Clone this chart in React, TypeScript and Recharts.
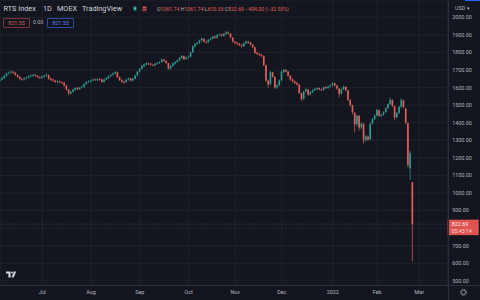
import React from "react"
import { ComposedChart, Bar, XAxis, YAxis, CartesianGrid, ReferenceLine } from "recharts"

// Daily RTS index candles, Jun 2021 .. 24 Feb 2022
const opens = [
  1638, 1646, 1654, 1667, 1681, 1687, 1691, 1684, 1671, 1661, 1649, 1646, 1653, 1657, 1666, 1667, 1673, 1667, 1659,
  1656, 1661, 1669, 1671, 1651, 1646, 1639, 1631, 1636, 1629, 1627, 1611, 1589, 1567, 1576, 1587, 1598, 1591, 1601, 1604, 1621, 1633,
  1634, 1641, 1646, 1642, 1649, 1646, 1633, 1646, 1654, 1666, 1673, 1681, 1687, 1659, 1642, 1633, 1631, 1646, 1652, 1641, 1651, 1669,
  1691, 1706, 1721, 1731, 1737, 1736, 1729, 1727, 1736, 1741, 1746, 1759, 1751, 1739, 1709, 1723, 1737, 1746, 1754, 1769, 1779, 1763,
  1771, 1776, 1801, 1834, 1849, 1854, 1869, 1877, 1861, 1859, 1873, 1879, 1891, 1884, 1899, 1903, 1894, 1906, 1914, 1907, 1884,
  1861, 1856, 1849, 1841, 1836, 1853, 1861, 1857, 1844, 1829, 1799, 1791, 1787, 1779, 1727, 1639, 1619, 1687, 1661, 1601, 1613,
  1641, 1689, 1701, 1691, 1667, 1646, 1634, 1626, 1617, 1569, 1536, 1579, 1589, 1561, 1574, 1586, 1591, 1597, 1589, 1587, 1603, 1597, 1607,
  1613, 1624, 1611, 1594, 1566, 1591, 1604, 1584, 1529, 1499, 1457, 1391, 1439, 1373, 1394, 1301, 1321, 1306, 1396, 1421,
  1441, 1471, 1439, 1446, 1461, 1483, 1506, 1529, 1494, 1431, 1456, 1491, 1527, 1480, 1398, 1140, 1061.74,
]
const highs = [
  1650, 1660, 1672, 1684, 1692, 1697, 1695, 1688, 1676, 1665, 1655, 1658, 1663, 1670, 1674, 1680, 1678, 1671, 1664,
  1668, 1673, 1682, 1675, 1656, 1650, 1644, 1641, 1640, 1636, 1632, 1615, 1592, 1581, 1594, 1602, 1603, 1606, 1611, 1625, 1637, 1642,
  1646, 1651, 1652, 1654, 1656, 1650, 1650, 1660, 1670, 1677, 1686, 1695, 1690, 1663, 1647, 1640, 1650, 1658, 1656, 1656, 1673, 1695,
  1711, 1728, 1736, 1744, 1743, 1740, 1735, 1741, 1746, 1751, 1766, 1764, 1755, 1742, 1728, 1743, 1750, 1760, 1773, 1786, 1783, 1776,
  1782, 1806, 1840, 1854, 1861, 1873, 1884, 1881, 1867, 1877, 1886, 1895, 1896, 1903, 1908, 1907, 1910, 1922, 1919, 1910, 1888,
  1866, 1862, 1855, 1847, 1857, 1867, 1866, 1860, 1848, 1832, 1805, 1797, 1792, 1782, 1730, 1645, 1694, 1690, 1664, 1620, 1646,
  1696, 1706, 1705, 1695, 1671, 1652, 1640, 1632, 1620, 1573, 1583, 1596, 1593, 1581, 1590, 1598, 1602, 1601, 1595, 1607, 1608, 1611, 1618,
  1631, 1629, 1615, 1597, 1596, 1610, 1608, 1587, 1533, 1503, 1460, 1446, 1443, 1402, 1398, 1330, 1328, 1402, 1427, 1447,
  1478, 1475, 1452, 1466, 1488, 1511, 1542, 1533, 1498, 1461, 1496, 1540, 1531, 1485, 1402, 1240, 1061.74,
]
const lows = [
  1632, 1641, 1650, 1662, 1675, 1680, 1678, 1668, 1655, 1644, 1638, 1640, 1648, 1652, 1660, 1662, 1662, 1654, 1648,
  1650, 1656, 1664, 1645, 1638, 1633, 1626, 1625, 1624, 1620, 1606, 1584, 1558, 1560, 1570, 1582, 1586, 1586, 1596, 1600, 1616, 1627,
  1629, 1636, 1637, 1637, 1641, 1628, 1628, 1641, 1650, 1660, 1668, 1676, 1655, 1637, 1627, 1622, 1626, 1640, 1634, 1636, 1646, 1664,
  1686, 1700, 1715, 1725, 1729, 1724, 1721, 1722, 1730, 1735, 1741, 1746, 1734, 1702, 1703, 1718, 1731, 1741, 1749, 1763, 1756, 1757,
  1765, 1771, 1796, 1828, 1843, 1849, 1863, 1856, 1851, 1854, 1867, 1874, 1879, 1879, 1893, 1889, 1889, 1900, 1902, 1880, 1856,
  1848, 1843, 1836, 1828, 1831, 1847, 1850, 1839, 1824, 1792, 1786, 1779, 1773, 1722, 1632, 1600, 1614, 1656, 1592, 1594, 1608,
  1636, 1683, 1686, 1662, 1639, 1629, 1619, 1611, 1563, 1524, 1530, 1573, 1553, 1555, 1568, 1580, 1585, 1584, 1581, 1582, 1592, 1592, 1601,
  1608, 1606, 1588, 1545, 1560, 1585, 1578, 1523, 1490, 1448, 1345, 1384, 1355, 1362, 1282, 1290, 1296, 1300, 1390, 1415,
  1435, 1433, 1432, 1440, 1455, 1477, 1500, 1488, 1415, 1425, 1450, 1485, 1483, 1392, 1145, 1075, 610.33,
]
const closes = [
  1645, 1655, 1668, 1680, 1686, 1690, 1685, 1672, 1660, 1650, 1645, 1652, 1658, 1665, 1668, 1672, 1668, 1660, 1655,
  1662, 1668, 1672, 1650, 1645, 1640, 1632, 1635, 1630, 1628, 1612, 1590, 1568, 1575, 1588, 1597, 1592, 1600, 1605, 1620, 1632, 1635,
  1640, 1645, 1643, 1648, 1647, 1634, 1645, 1655, 1665, 1672, 1680, 1688, 1660, 1643, 1634, 1630, 1645, 1653, 1640, 1650, 1668, 1690,
  1705, 1722, 1730, 1738, 1735, 1730, 1728, 1735, 1740, 1745, 1760, 1752, 1740, 1708, 1722, 1738, 1745, 1755, 1768, 1780, 1762, 1770,
  1775, 1800, 1835, 1848, 1855, 1868, 1878, 1862, 1858, 1872, 1880, 1890, 1885, 1898, 1902, 1895, 1905, 1915, 1908, 1885, 1862,
  1855, 1850, 1842, 1835, 1852, 1862, 1856, 1845, 1830, 1798, 1792, 1786, 1780, 1728, 1640, 1618, 1688, 1662, 1600, 1612, 1640,
  1690, 1700, 1692, 1668, 1645, 1635, 1625, 1618, 1570, 1535, 1578, 1590, 1560, 1575, 1585, 1592, 1596, 1590, 1588, 1602, 1598, 1606, 1612,
  1625, 1612, 1595, 1565, 1590, 1605, 1585, 1530, 1500, 1458, 1390, 1440, 1372, 1395, 1300, 1322, 1305, 1395, 1420, 1440,
  1472, 1440, 1445, 1460, 1482, 1505, 1530, 1495, 1430, 1455, 1490, 1528, 1490, 1400, 1160, 1226.69, 822.69,
]

// bar index of the first trading day of each month
const monthTicks = [19, 41, 63, 85, 106, 127, 150, 170, 189]
const monthLabels = ["Jul", "Aug", "Sep", "Oct", "Nov", "Dec", "2022", "Feb", "Mar"]
const priceTicks = [500, 600, 700, 800, 900, 1000, 1100, 1200, 1300, 1400, 1500, 1600, 1700, 1800, 1900, 2000]

const lastPrice = 822.69
const countdown = "05:45:14"

const BG = "#14161f"
const GRID = "#22252f"
const UP = "#2a9f93"
const DOWN = "#e5605a"
const TEXT = "#b2b5be"
const FONT = "Roboto, sans-serif"

const data = closes.map((c, i) => ({ i, open: opens[i], high: highs[i], low: lows[i], close: c }))

const Candle = (props: any) => {
  const { x, y, width, height, payload } = props
  if (!payload || x == null) return null
  const { open, close, high, low } = payload
  const top = Math.min(y, y + height)
  const h = Math.abs(height)
  const color = close >= open ? UP : DOWN
  const ratio = high === low ? 0 : h / (high - low)
  const bodyTop = top + (high - Math.max(open, close)) * ratio
  const bodyH = Math.max(Math.abs(open - close) * ratio, 0.7)
  const cx = x + width / 2
  return (
    <g>
      <line x1={cx} x2={cx} y1={top} y2={top + h} stroke={color} strokeWidth={0.7} />
      <rect x={x} y={bodyTop} width={width} height={bodyH} fill={color} />
    </g>
  )
}

const PriceTag = (props: any) => {
  const vb = props.viewBox || {}
  const left = (vb.x || 0) + (vb.width || 0)
  const y = vb.y || 0
  return (
    <g>
      <rect x={left} y={y - 4.5} width={31} height={15.5} fill="#e0534e" />
      <text x={left + 4} y={y + 1.8} fontSize={5.4} fill="#fff2f1" fontFamily={FONT}>
        {lastPrice.toFixed(2)}
      </text>
      <text x={left + 4} y={y + 8.6} fontSize={5.2} fill="#fbd9d6" fontFamily={FONT}>
        {countdown}
      </text>
    </g>
  )
}

export default function App() {
  return (
    <div
      style={{
        position: "absolute",
        left: 0,
        top: 0,
        width: 480,
        height: 300,
        background: BG,
        overflow: "hidden",
        fontFamily: FONT,
      }}
    >
      <ComposedChart width={480} height={300} data={data} margin={{ top: 0, right: 0, bottom: 0, left: 0 }}>
        <CartesianGrid stroke={GRID} strokeWidth={0.8} />
        <XAxis
          dataKey="i"
          type="number"
          domain={[-0.07, 201.8]}
          allowDataOverflow
          ticks={monthTicks}
          interval={0}
          tickFormatter={(v: number) => monthLabels[monthTicks.indexOf(v)] ?? ""}
          height={15}
          axisLine={false}
          tickLine={false}
          tickSize={0}
          tickMargin={4.8}
          tick={{ fill: TEXT, fontSize: 5.4, fontFamily: FONT }}
        />
        <YAxis
          orientation="right"
          type="number"
          domain={[476.4, 2098.5]}
          allowDataOverflow
          ticks={priceTicks}
          interval={0}
          width={32.3}
          axisLine={false}
          tickLine={false}
          tickSize={0}
          tickMargin={4.5}
          // the 800 label sits under the last-price tag, as in TradingView
          tickFormatter={(v: number) => (Math.abs(v - lastPrice) < 40 ? "" : v.toFixed(2))}
          tick={{ fill: TEXT, fontSize: 5.4, fontFamily: FONT }}
        />
        <Bar
          dataKey={(d: any) => [d.low, d.high]}
          barSize={1.6}
          shape={Candle}
          isAnimationActive={false}
        />
        <ReferenceLine
          y={lastPrice}
          stroke="#9a5c5e"
          strokeWidth={0.6}
          strokeDasharray="1 2"
          label={<PriceTag />}
        />
      </ComposedChart>

      {/* pane separators */}
      <div style={{ position: "absolute", left: 447.5, top: 0, width: 0.8, height: 300, background: "#2a2e39" }} />
      <div style={{ position: "absolute", left: 0, top: 284.8, width: 480, height: 0.8, background: "#2a2e39" }} />
      <div style={{ position: "absolute", left: 465, top: 0, width: 15, height: 0.8, background: "#2962ff" }} />

      {/* legend row */}
      {[
        ["RTS Index", 3.5],
        ["1D", 43],
        ["MOEX", 57],
        ["TradingView", 82],
      ].map(([t, l]) => (
        <div
          key={t as string}
          style={{ position: "absolute", left: l as number, top: 4, lineHeight: "9px", fontSize: 7.3, color: "#d1d4dc" }}
        >
          {t}
        </div>
      ))}
      <div style={{ position: "absolute", left: 132.6, top: 6.1, width: 4.8, height: 4.8, borderRadius: 3, background: "#1f5e57" }} />
      <div style={{ position: "absolute", left: 133.8, top: 7.3, width: 2.4, height: 2.4, borderRadius: 2, background: "#3fc2ae" }} />
      <div style={{ position: "absolute", left: 141.5, top: 5.5, width: 5, height: 6, background: "#5b2730", borderRadius: 0.8 }} />
      <div style={{ position: "absolute", left: 142.5, top: 7.2, width: 3, height: 0.6, background: "#e5605a" }} />
      <div style={{ position: "absolute", left: 142.5, top: 9, width: 3, height: 0.6, background: "#e5605a" }} />
      <div style={{ position: "absolute", left: 157, top: 4.6, lineHeight: "8px", fontSize: 5.2, whiteSpace: "nowrap" }}>
        <span style={{ color: TEXT }}>O</span>
        <span style={{ color: DOWN }}>1061.74 </span>
        <span style={{ color: TEXT }}>H</span>
        <span style={{ color: DOWN }}>1061.74 </span>
        <span style={{ color: TEXT }}>L</span>
        <span style={{ color: DOWN }}>610.33 </span>
        <span style={{ color: TEXT }}>C</span>
        <span style={{ color: DOWN }}>822.69 −404.00 (−32.93%)</span>
      </div>

      {/* second legend row */}
      <div
        style={{
          position: "absolute", left: 3, top: 17.5, width: 25, height: 8.5, border: "0.7px solid #7a3537",
          borderRadius: 1, color: "#cf5d58", fontSize: 5.4, lineHeight: "8.5px", textAlign: "center",
        }}
      >
        821.55
      </div>
      <div style={{ position: "absolute", left: 33, top: 17.5, lineHeight: "9.5px", fontSize: 5.2, color: TEXT }}>0.00</div>
      <div
        style={{
          position: "absolute", left: 47, top: 17.5, width: 25, height: 8.5, border: "0.7px solid #2b4aa0",
          borderRadius: 1, color: "#5a7cf0", fontSize: 5.4, lineHeight: "8.5px", textAlign: "center",
        }}
      >
        821.55
      </div>

      {/* price scale header */}
      <div style={{ position: "absolute", left: 455, top: 4, lineHeight: "8px", fontSize: 5.4, color: TEXT }}>USD ▾</div>

      {/* TradingView logo and settings gear */}
      <svg style={{ position: "absolute", left: 0, top: 0 }} width={480} height={300}>
        <path d="M6 271.6 H10.6 V277.6 H8.4 V273.6 H6 Z" fill="#d1d4dc" />
        <circle cx={12.1} cy={272.6} r={1} fill="#d1d4dc" />
        <path d="M11.4 277.6 L14 271.6 H16.2 L13.6 277.6 Z" fill="#d1d4dc" />
        <circle cx={463.5} cy={292.3} r={2.1} fill="none" stroke={TEXT} strokeWidth={0.6} />
        <circle cx={463.5} cy={292.3} r={3} fill="none" stroke={TEXT} strokeWidth={1} strokeDasharray="1 1.36" />
      </svg>
    </div>
  )
}
